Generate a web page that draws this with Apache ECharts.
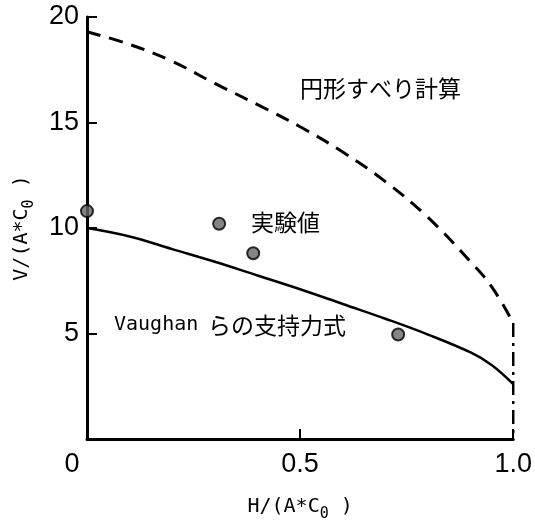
<!DOCTYPE html>
<html>
<head>
<meta charset="utf-8">
<script src="https://cdn.jsdelivr.net/npm/echarts@6/dist/echarts.min.js"></script>
<style>
  html, body { margin: 0; padding: 0; background: #fff; }
  #chart { width: 535px; height: 527px; }
</style>
</head>
<body>
<div id="chart"></div>
<script>
// H/(A*C0) の値
const hRatio = [0, 0.1, 0.2, 0.3, 0.4, 0.5, 0.6, 0.7, 0.8, 0.9, 0.95, 1.0];
// 円形すべり計算（破線）
const slipCircle = [19.3, 18.7, 17.9, 16.85, 15.85, 14.8, 13.6, 12.2, 10.5, 8.4, 7.2, 5.5];
// Vaughan らの支持力式（実線）
const vaughan = [10.0, 9.6, 9.0, 8.4, 7.75, 7.1, 6.4, 5.7, 4.95, 4.1, 3.5, 2.6];
// 実験値
const testH = [0, 0.31, 0.39, 0.73];
const testV = [10.8, 10.2, 8.8, 4.95];
// x = 1.0 の一点鎖線
const limitLine = [[1.0, 5.5], [1.0, 0]];

const myChart = echarts.init(document.getElementById('chart'));
const jp = '"Noto Sans CJK JP", sans-serif';
const num = '"Liberation Sans", Arial, sans-serif';
const mono = '"DejaVu Sans Mono", monospace';

const option = {
  animation: false,
  backgroundColor: '#fff',
  grid: { left: 87, right: 17, top: 17, bottom: 79 },
  xAxis: {
    type: 'value',
    min: 0, max: 1, interval: 0.5,
    name: 'H/(A*C{sub|0} )',
    nameLocation: 'middle',
    nameGap: 52,
    nameTextStyle: {
      fontFamily: mono, fontSize: 20, color: '#000',
      rich: { sub: { fontFamily: mono, fontSize: 15, padding: [16, 0, 0, 0] } }
    },
    axisLine: { lineStyle: { color: '#000', width: 3 } },
    axisTick: { inside: true, length: 10, lineStyle: { color: '#000', width: 2 } },
    splitLine: { show: false },
    axisLabel: {
      color: '#000', fontFamily: num, fontSize: 27, margin: 12,
      formatter: function (v) {
        if (v === 0) return '{z|0}';
        return v === 1 ? '1.0' : String(v);
      },
      rich: { z: { fontFamily: num, fontSize: 27, padding: [0, 30, 10, 0] } }
    }
  },
  yAxis: {
    type: 'value',
    min: 0, max: 20, interval: 5,
    name: 'V/(A*C{sub|0} )',
    nameLocation: 'middle',
    nameGap: 50,
    nameRotate: 90,
    nameTextStyle: {
      fontFamily: mono, fontSize: 20, color: '#000',
      rich: { sub: { fontFamily: mono, fontSize: 15, padding: [16, 0, 0, 0] } }
    },
    axisLine: { show: true, lineStyle: { color: '#000', width: 3 } },
    axisTick: { inside: true, length: 10, lineStyle: { color: '#000', width: 2 } },
    splitLine: { show: false },
    axisLabel: {
      color: '#000', fontFamily: num, fontSize: 27, margin: 8,
      formatter: function (v) { return v === 0 ? '' : String(v); }
    }
  },
  series: [
    {
      name: '円形すべり計算',
      type: 'line',
      smooth: 0.4,
      symbol: 'none',
      data: hRatio.map((h, i) => [h, slipCircle[i]]),
      lineStyle: { color: '#000', width: 3, type: [14, 9] },
      z: 3
    },
    {
      name: 'Vaughan らの支持力式',
      type: 'line',
      smooth: 0.4,
      symbol: 'none',
      data: hRatio.map((h, i) => [h, vaughan[i]]),
      lineStyle: { color: '#000', width: 2.5 },
      z: 3
    },
    {
      name: 'limit',
      type: 'line',
      symbol: 'none',
      data: limitLine,
      lineStyle: { color: '#000', width: 2.5, type: [14, 6, 3, 6] },
      z: 3
    },
    {
      name: '実験値',
      type: 'scatter',
      symbol: 'circle',
      symbolSize: 12,
      data: testH.map((h, i) => [h, testV[i]]),
      itemStyle: { color: '#666', borderColor: '#000', borderWidth: 2 },
      z: 5
    }
  ],
  graphic: [
    { type: 'text', left: 300, top: 77,
      style: { text: '円形すべり計算', font: '23px ' + jp, fill: '#000' } },
    { type: 'text', left: 251, top: 211,
      style: { text: '実験値', font: '23px ' + jp, fill: '#000' } },
    { type: 'text', left: 114, top: 315,
      style: { text: 'Vaughan', font: '20px ' + mono, fill: '#000' } },
    { type: 'text', left: 208, top: 314,
      style: { text: 'らの支持力式', font: '23px ' + jp, fill: '#000' } }
  ]
};

myChart.setOption(option);
</script>
</body>
</html>
